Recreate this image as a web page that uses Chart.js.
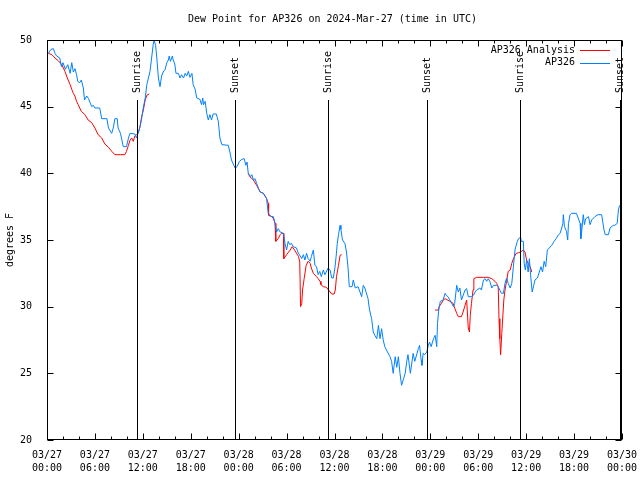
<!DOCTYPE html>
<html>
<head>
<meta charset="utf-8">
<script src="https://cdn.jsdelivr.net/npm/chart.js@4.4.1/dist/chart.umd.min.js"></script>
<style>
  html, body { margin: 0; padding: 0; background: #fff; }
</style>
</head>
<body>
<canvas id="chart" width="640" height="480"></canvas>
<script>
// hours since 03/27 00:00 UTC
const blueHours = [0.17,0.5,0.8,1.0,1.2,1.6,1.8,2.0,2.3,2.6,2.9,3.1,3.3,3.5,3.7,3.85,4.1,4.3,4.55,4.7,4.97,5.2,5.4,5.6,5.8,6.0,6.6,6.85,7.5,7.7,8.1,8.3,8.5,8.8,8.9,9.2,9.55,9.95,10.2,10.4,11.0,11.2,11.4,11.65,11.85,12.05,12.3,12.5,12.7,12.9,13.1,13.3,13.4,13.6,13.75,13.95,14.15,14.35,14.55,14.8,15.0,15.2,15.3,15.45,15.7,15.8,16.0,16.15,16.45,16.65,16.85,17.1,17.3,17.5,17.7,17.9,18.15,18.3,18.55,18.75,19.15,19.35,19.5,19.6,19.8,20.0,20.2,20.4,20.6,20.8,21.2,21.45,21.65,21.9,22.7,22.9,23.1,23.55,23.8,24.1,24.4,24.7,24.9,25.05,25.2,25.5,25.65,25.85,26.05,26.25,26.5,26.7,27.1,27.5,27.7,27.9,28.15,28.35,28.55,28.75,28.95,29.2,29.6,29.8,30.0,30.2,30.4,30.6,30.85,31.25,31.4,31.9,32.1,32.3,32.5,32.7,32.95,33.1,33.35,33.55,33.75,33.95,34.15,34.35,34.6,34.8,35.2,35.45,35.65,35.85,36.05,36.2,36.35,36.5,36.7,36.8,37.0,37.3,37.5,37.7,37.85,38.2,38.35,38.6,38.95,39.1,39.4,39.6,39.8,40.2,40.35,40.5,40.65,40.85,41.05,41.3,41.5,41.7,41.9,42.1,42.3,42.5,42.95,43.15,43.35,43.6,43.8,44.0,44.2,44.4,44.65,44.85,45.05,45.2,45.5,45.85,46.05,46.5,46.65,46.85,46.95,47.1,47.3,47.55,47.75,47.9,48.1,48.4,48.6,48.8,48.9,49.05,49.25,49.6,49.85,50.0,50.2,50.45,50.9,51.05,51.3,51.5,51.7,51.9,52.35,52.55,52.75,53.15,53.4,53.6,53.8,54.2,54.4,54.65,54.85,55.05,55.25,55.45,55.7,55.9,56.3,56.5,56.7,56.9,57.15,57.35,57.55,57.75,58.0,58.2,58.4,58.6,58.7,58.9,59.05,59.3,59.4,59.65,59.75,59.9,60.05,60.25,60.4,60.55,60.75,60.95,61.1,61.4,61.65,61.85,62.05,62.25,62.45,62.65,62.9,63.2,63.5,63.75,64.05,64.25,64.45,64.6,64.65,64.8,65.05,65.2,65.3,65.5,65.7,66.3,66.75,66.85,67.0,67.15,67.3,67.45,67.8,68.0,68.2,68.6,69.0,69.45,69.75,69.9,70.3,70.5,70.9,71.1,71.4,71.55,71.7];
const blueValues = [49.0,49.3,49.35,49.0,48.8,48.65,48.0,48.3,47.8,48.15,47.5,48.3,47.6,47.85,47.4,46.9,46.8,47.0,46.4,45.5,45.8,45.6,45.3,45.0,45.1,44.9,44.9,44.1,44.1,43.4,43.0,43.4,44.1,44.1,43.4,43.0,42.0,42.0,42.65,43.0,42.95,42.65,43.0,43.5,44.1,44.9,45.65,46.65,47.15,47.65,48.65,49.65,50.0,49.6,48.65,47.15,46.5,47.3,47.6,47.8,48.3,48.5,48.8,48.4,48.8,48.5,48.2,47.5,47.5,47.15,47.4,47.15,47.5,47.3,47.65,47.2,47.5,46.65,46.3,45.65,45.55,45.15,45.65,45.15,45.4,44.5,44.0,44.4,44.0,44.45,44.45,43.9,42.65,42.15,42.1,41.6,41.0,40.4,40.5,40.9,41.05,41.1,40.6,40.85,40.0,39.75,39.9,39.5,39.6,39.25,38.85,38.6,38.5,38.1,37.0,36.85,36.75,36.75,36.25,35.6,35.85,35.6,35.5,34.75,34.25,34.9,34.65,34.75,34.5,34.4,34.1,33.6,33.9,33.5,34.0,33.6,33.4,33.75,34.25,33.1,33.0,32.4,32.65,32.25,32.75,32.4,32.9,32.75,32.15,32.15,32.9,33.75,34.75,35.4,36.1,35.8,35.0,34.75,34.1,32.9,31.5,31.5,32.0,31.4,31.5,31.25,30.75,31.6,31.4,30.6,29.9,29.45,29.1,28.1,27.85,27.6,28.6,27.6,28.35,27.5,27.0,26.75,26.25,25.9,25.0,26.25,25.45,26.25,25.0,24.1,24.6,25.0,25.9,26.4,25.0,26.5,25.9,26.85,27.1,26.0,25.6,26.5,26.4,26.6,27.1,27.35,27.0,27.6,27.85,27.0,28.75,29.75,30.4,30.5,31.0,30.85,30.75,30.5,30.0,30.25,31.6,31.1,31.4,30.5,31.25,31.35,30.75,30.75,30.85,31.1,31.25,31.4,31.25,32.0,32.1,31.9,32.1,31.9,31.4,31.6,31.6,31.5,31.25,31.0,31.0,31.75,32.15,31.75,31.4,31.75,33.0,34.25,34.5,34.9,35.1,35.2,34.9,34.9,33.25,32.75,33.5,32.6,33.6,32.4,31.1,31.6,32.0,32.15,32.6,33.0,32.6,33.4,33.0,34.25,34.4,34.6,34.9,35.1,35.4,35.5,35.9,36.25,36.9,36.0,35.65,35.0,36.25,36.9,37.0,37.0,36.25,35.1,35.9,36.9,36.15,36.6,36.75,36.15,36.5,36.75,36.9,36.9,35.75,35.4,35.4,35.9,36.1,36.1,36.25,37.25,37.6];

// analysis series, null = gap
const redHours = [0.17,0.6,1.0,1.4,1.85,2.05,2.25,2.45,2.65,2.9,3.1,3.3,3.5,3.7,3.9,4.1,4.3,4.75,5.15,5.6,6.0,6.4,6.85,7.25,7.7,8.1,8.5,9.2,9.75,9.95,10.2,10.4,10.6,10.8,11.0,11.2,11.4,11.65,11.85,12.05,12.3,12.5,12.8,
  13.0,
  25.2,25.4,25.85,26.25,26.7,27.1,27.5,27.7,27.75,28.15,28.35,28.55,28.65,28.95,29.2,29.35,29.6,29.65,30.0,30.45,30.7,31.0,31.5,31.65,31.75,31.9,32.0,32.2,32.45,32.7,32.95,33.1,33.35,33.75,33.95,34.2,34.3,34.6,35.0,35.45,35.65,35.95,36.1,36.25,36.5,36.7,36.9,
  37.0,
  48.6,49.0,49.1,49.4,49.6,49.85,50.45,50.85,51.05,51.3,51.5,51.9,52.1,52.35,52.55,52.75,52.9,53.0,53.15,53.35,53.45,53.8,54.65,55.25,55.7,56.1,56.3,56.5,56.6,56.7,56.8,56.95,57.05,57.2,57.35,57.55,57.75,58.0,58.2,58.4,58.75,59.05,59.3,59.65,59.85,60.05,60.25,60.5,60.7];
const redValues = [49.0,48.9,48.65,48.45,48.15,47.9,47.65,47.3,47.0,46.65,46.3,46.0,45.8,45.4,45.15,44.9,44.65,44.4,44.0,43.8,43.4,42.9,42.65,42.2,41.95,41.65,41.4,41.4,41.4,41.65,42.1,42.5,42.65,42.4,42.8,42.9,43.0,43.5,44.25,44.7,45.5,45.85,45.95,
  null,
  40.0,39.75,39.5,39.1,38.6,38.5,38.1,37.75,36.85,36.75,36.6,36.25,34.9,35.1,35.4,35.5,35.5,33.6,33.9,34.25,34.5,34.25,33.75,33.35,30.0,30.25,31.25,32.1,33.1,33.4,33.25,32.9,32.5,32.25,32.1,31.9,31.65,31.5,31.45,31.1,30.95,30.95,31.25,32.25,33.1,33.85,33.9,
  null,
  29.75,29.75,30.0,30.25,30.5,30.6,30.4,30.25,29.9,29.5,29.25,29.25,29.6,30.1,30.5,28.4,28.1,29.35,30.25,31.25,32.1,32.2,32.2,32.2,32.1,31.9,31.75,31.5,29.1,27.6,26.4,28.0,29.0,30.5,31.25,31.9,32.65,32.75,33.25,33.6,34.0,34.05,34.1,34.25,34.1,33.5,33.25,33.0,32.6];

const sunHours = [11.23, 23.54, 35.22, 47.62, 59.23, 71.69];
const sunLabels = ['Sunrise', 'Sunset', 'Sunrise', 'Sunset', 'Sunrise', 'Sunset'];

const tickDates = ['03/27','03/27','03/27','03/27','03/28','03/28','03/28','03/28','03/29','03/29','03/29','03/29','03/30'];
const tickTimes = ['00:00','06:00','12:00','18:00','00:00','06:00','12:00','18:00','00:00','06:00','12:00','18:00','00:00'];

const FAMILY = '"DejaVu Sans Mono", monospace';
const FONT = '10px ' + FAMILY;

// gnuplot-ish frame, inward ticks, sun markers, title, legend
const overlay = {
  id: 'overlay',
  afterDatasetsDraw(chart) {
    const { ctx, chartArea: ca, scales: { x, y } } = chart;
    const L = Math.round(ca.left) + 0.5, R = Math.round(ca.right) - 0.5;
    const T = Math.round(ca.top) + 0.5, B = Math.round(ca.bottom) - 0.5;
    ctx.save();
    ctx.strokeStyle = '#000';
    ctx.lineWidth = 1;
    ctx.fillStyle = '#000';
    ctx.font = FONT;

    // sunrise / sunset lines up to 85% of the graph
    const yTop = Math.round(y.getPixelForValue(y.min + 0.85 * (y.max - y.min)));
    sunHours.forEach((h, i) => {
      const px = Math.round(x.getPixelForValue(h)) + 0.5;
      ctx.beginPath();
      ctx.moveTo(px, yTop);
      ctx.lineTo(px, B);
      ctx.stroke();
      ctx.save();
      ctx.translate(px, yTop - 7);
      ctx.rotate(-Math.PI / 2);
      ctx.textAlign = 'left';
      ctx.textBaseline = 'middle';
      ctx.fillText(sunLabels[i], 0, 0);
      ctx.restore();
    });

    // border
    ctx.strokeRect(L, T, R - L, B - T);

    // ticks
    ctx.beginPath();
    for (let v = y.min; v <= y.max; v += 5) {
      const py = Math.round(y.getPixelForValue(v)) + 0.5;
      ctx.moveTo(L, py); ctx.lineTo(L + 6, py);
      ctx.moveTo(R, py); ctx.lineTo(R - 6, py);
    }
    for (let h = 0; h <= 72; h += 2) {
      const px = Math.round(x.getPixelForValue(h)) + 0.5;
      const len = h % 6 === 0 ? 6 : 3;
      ctx.moveTo(px, B); ctx.lineTo(px, B - len);
      ctx.moveTo(px, T); ctx.lineTo(px, T + len);
    }
    ctx.stroke();
    ctx.restore();
  },
  afterDraw(chart) {
    const { ctx, chartArea: ca } = chart;
    ctx.save();
    ctx.fillStyle = '#000';
    ctx.font = FONT;
    ctx.textBaseline = 'middle';

    ctx.textAlign = 'center';
    ctx.fillText('Dew Point for AP326 on 2024-Mar-27 (time in UTC)', (ca.left + ca.right) / 2 - 2, 19);

    ctx.save();
    ctx.translate(10, (ca.top + ca.bottom) / 2);
    ctx.rotate(-Math.PI / 2);
    ctx.fillText('degrees F', 0, 0);
    ctx.restore();

    // legend (top right, inside)
    const items = [['AP326 Analysis', '#ff0000'], ['AP326', '#0080ff']];
    ctx.textAlign = 'right';
    items.forEach(([name, col], i) => {
      const ly = 50 + i * 12.5;
      ctx.fillStyle = '#000';
      ctx.fillText(name, 575, ly);
      ctx.strokeStyle = col;
      ctx.lineWidth = 1;
      ctx.beginPath();
      ctx.moveTo(580, Math.round(ly) + 0.5);
      ctx.lineTo(610, Math.round(ly) + 0.5);
      ctx.stroke();
    });
    ctx.restore();
  }
};

const bluePts = blueHours.map((h, i) => ({ x: h, y: blueValues[i] }));
const redPts = redHours.map((h, i) => ({ x: h, y: redValues[i] }));

new Chart(document.getElementById('chart').getContext('2d'), {
  type: 'line',
  data: {
    datasets: [
      { label: 'AP326', data: bluePts, borderColor: '#0080ff', borderWidth: 1, pointRadius: 0, tension: 0, fill: false },
      { label: 'AP326 Analysis', data: redPts, borderColor: '#ff0000', borderWidth: 1, pointRadius: 0, tension: 0, fill: false, spanGaps: false }
    ]
  },
  options: {
    responsive: false,
    animation: false,
    events: [],
    layout: { padding: { top: 40, right: 18, left: 0, bottom: 0 } },
    plugins: {
      legend: { display: false },
      tooltip: { enabled: false },
      title: { display: false }
    },
    scales: {
      x: {
        type: 'linear',
        min: 0,
        max: 72,
        grid: { display: false },
        border: { display: false },
        ticks: {
          stepSize: 6,
          autoSkip: false,
          maxRotation: 0,
          padding: 1,
          color: '#000',
          font: { family: FAMILY, size: 10, lineHeight: 1.27 },
          callback: v => [tickDates[v / 6], tickTimes[v / 6]]
        },
        afterFit: s => { s.height = 40; s.paddingLeft = 0; s.paddingRight = 0; }
      },
      y: {
        min: 20,
        max: 50,
        grid: { display: false },
        border: { display: false },
        ticks: {
          stepSize: 5,
          padding: 7,
          color: '#000',
          font: { family: FAMILY, size: 10 }
        },
        afterFit: s => { s.width = 47; }
      }
    }
  },
  plugins: [overlay]
});
</script>
</body>
</html>
